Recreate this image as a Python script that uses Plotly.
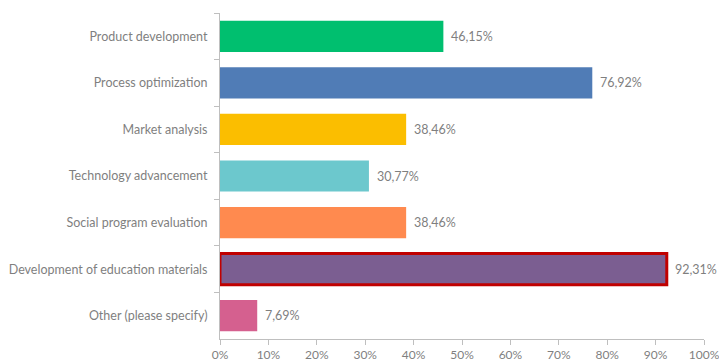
import plotly.graph_objects as go

categories = [
    "Product development",
    "Process optimization",
    "Market analysis",
    "Technology advancement",
    "Social program evaluation",
    "Development of education materials",
    "Other (please specify)",
]
shares = [0.4615, 0.7692, 0.3846, 0.3077, 0.3846, 0.9231, 0.0769]
bar_colors = ["#00BF6F", "#507CB6", "#FBBE00", "#6CC8CD", "#FF8A4F", "#7B5E91", "#D5608F"]
outline_colors = ["rgba(0,0,0,0)"] * 5 + ["#C00000", "rgba(0,0,0,0)"]
outline_widths = [0, 0, 0, 0, 0, 3, 0]

grey = "#7F7F7F"
axis_grey = "#BFBFBF"
font_family = "Lato, 'Open Sans', sans-serif"

fig = go.Figure(
    go.Bar(
        x=shares,
        y=categories,
        orientation="h",
        marker=dict(color=bar_colors, line=dict(color=outline_colors, width=outline_widths)),
        hoverinfo="x+y",
    )
)

# value labels placed just right of each bar end
for cat, val in zip(categories, shares):
    fig.add_annotation(
        x=val,
        y=cat,
        text=f"{val * 100:.2f}%".replace(".", ","),
        showarrow=False,
        xanchor="left",
        xshift=6,
        font=dict(color=grey, size=12.5, family=font_family),
    )

fig.update_layout(
    width=719,
    height=362,
    margin=dict(l=220, r=15, t=13, b=23),
    paper_bgcolor="white",
    plot_bgcolor="white",
    separators=", ",
    bargap=0.33,
    showlegend=False,
    font=dict(family=font_family, color=grey, size=12.5),
)

fig.update_xaxes(
    range=[0, 1],
    tickformat=".0%",
    dtick=0.1,
    showgrid=False,
    zeroline=False,
    showline=True,
    linecolor=axis_grey,
    linewidth=1,
    ticks="outside",
    ticklen=5,
    tickcolor=axis_grey,
    ticklabeloverflow="allow",
    automargin=False,
    tickfont=dict(size=12, color=grey),
)

fig.update_yaxes(
    autorange="reversed",
    showgrid=False,
    showline=True,
    linecolor=axis_grey,
    linewidth=1,
    ticks="outside",
    tickson="boundaries",
    ticklen=5,
    tickcolor=axis_grey,
    ticklabelstandoff=9,
    automargin=False,
    tickfont=dict(size=12.5, color=grey),
)

fig.write_html("out.html")
